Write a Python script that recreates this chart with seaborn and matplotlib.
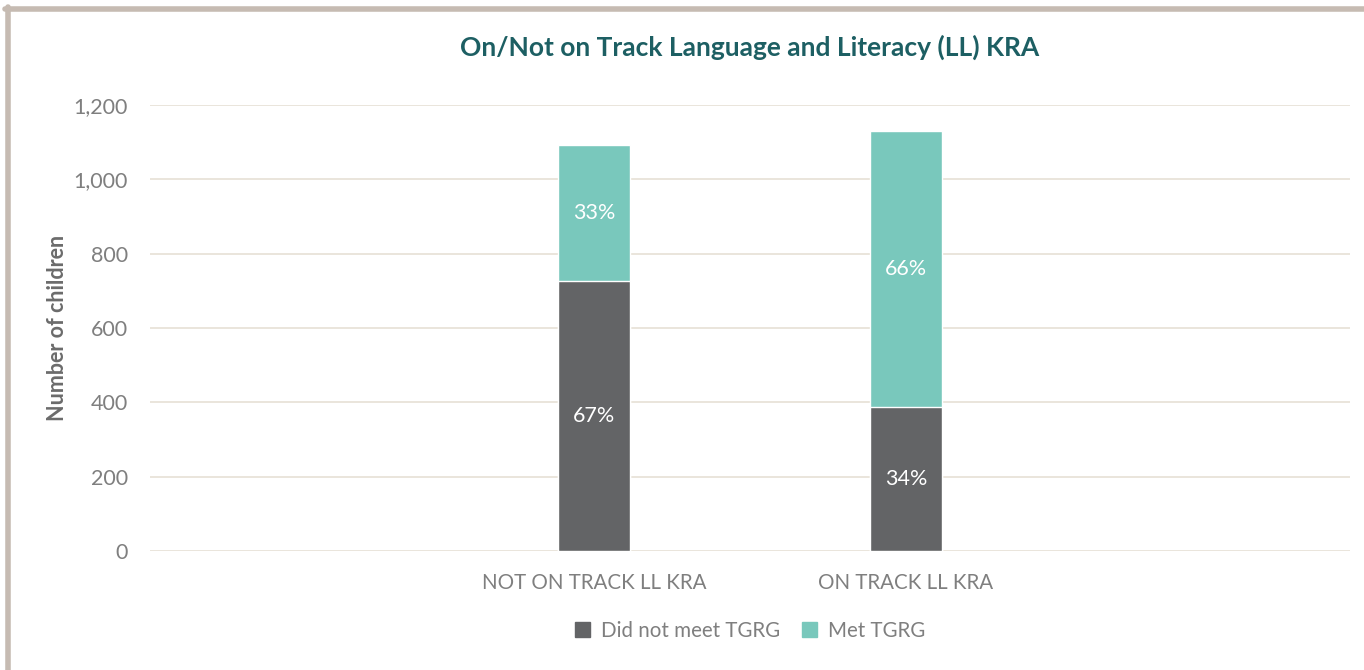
import matplotlib
matplotlib.use("Agg")
import matplotlib.pyplot as plt
from matplotlib.lines import Line2D
import seaborn as sns
import pandas as pd

# data
categories = ["NOT ON TRACK LL KRA", "ON TRACK LL KRA"]
did_not_meet = [727, 388]
met = [366, 742]
pct_did_not_meet = ["67%", "34%"]
pct_met = ["33%", "66%"]
series_names = ["Did not meet TGRG", "Met TGRG"]

dark = "#636466"
teal = "#79c8bc"
grid_col = "#e6e0d6"
text_col = "#7f7f7f"

sns.set_style("white")
plt.rcParams["font.family"] = ["Lato", "DejaVu Sans"]

df = pd.DataFrame({"cat": categories, "low": did_not_meet, "high": met})
df["total"] = df["low"] + df["high"]

fig = plt.figure(figsize=(13.64, 6.70), dpi=100)
ax = fig.add_axes([150 / 1364, 1 - 551 / 670, 1200 / 1364, 446 / 670])

sns.barplot(data=df, x="cat", y="total", color=teal, width=0.23, ax=ax,
            saturation=1, zorder=3)
sns.barplot(data=df, x="cat", y="low", color=dark, width=0.23, ax=ax,
            saturation=1, zorder=3)

ax.set_xlim(-1.423, 2.423)
ax.set_ylim(0, 1200)
ax.set_yticks(range(0, 1201, 200))
ax.set_yticklabels([f"{v:,}" for v in range(0, 1201, 200)])
ax.grid(axis="y", color=grid_col, linewidth=1.2, zorder=0)
ax.set_axisbelow(True)
for s in ax.spines.values():
    s.set_visible(False)
ax.tick_params(axis="y", length=0, pad=16, labelsize=15.5, labelcolor=text_col)
ax.tick_params(axis="x", length=0, pad=16, labelsize=14.8, labelcolor=text_col)
ax.set_xlabel("")
ax.set_ylabel("Number of children", fontsize=15.5, fontweight="bold",
              color="#6b6b6b")
ax.yaxis.set_label_coords(-0.068, 0.5)

# percent labels
for i in range(len(categories)):
    ax.text(i, did_not_meet[i] / 2, pct_did_not_meet[i], ha="center",
            va="center", color="white", fontsize=15.5, zorder=4)
    ax.text(i, did_not_meet[i] + met[i] / 2, pct_met[i], ha="center",
            va="center", color="white", fontsize=15.5, zorder=4)

fig.text(750 / 1364, 1 - 47 / 670, "On/Not on Track Language and Literacy (LL) KRA",
         fontsize=19, fontweight="bold", color="#1d5f63", ha="center", va="center")

handles = [plt.Rectangle((0, 0), 1, 1, color=dark),
           plt.Rectangle((0, 0), 1, 1, color=teal)]
fig.legend(handles, series_names, loc="center", bbox_to_anchor=(750 / 1364, 1 - 631 / 670),
           ncol=2, frameon=False, fontsize=14.8, handlelength=0.73, handleheight=0.73,
           handletextpad=0.53, columnspacing=1.05, labelcolor=text_col)

# frame lines at top and left
fig.add_artist(Line2D([5 / 1364, 1], [1 - 9 / 670, 1 - 9 / 670], color="#c6bbb2",
                      linewidth=4, transform=fig.transFigure))
fig.add_artist(Line2D([8 / 1364, 8 / 1364], [0, 1 - 7 / 670], color="#c6bbb2",
                      linewidth=4, transform=fig.transFigure))

fig.savefig("out.png", dpi=100, facecolor="white")
